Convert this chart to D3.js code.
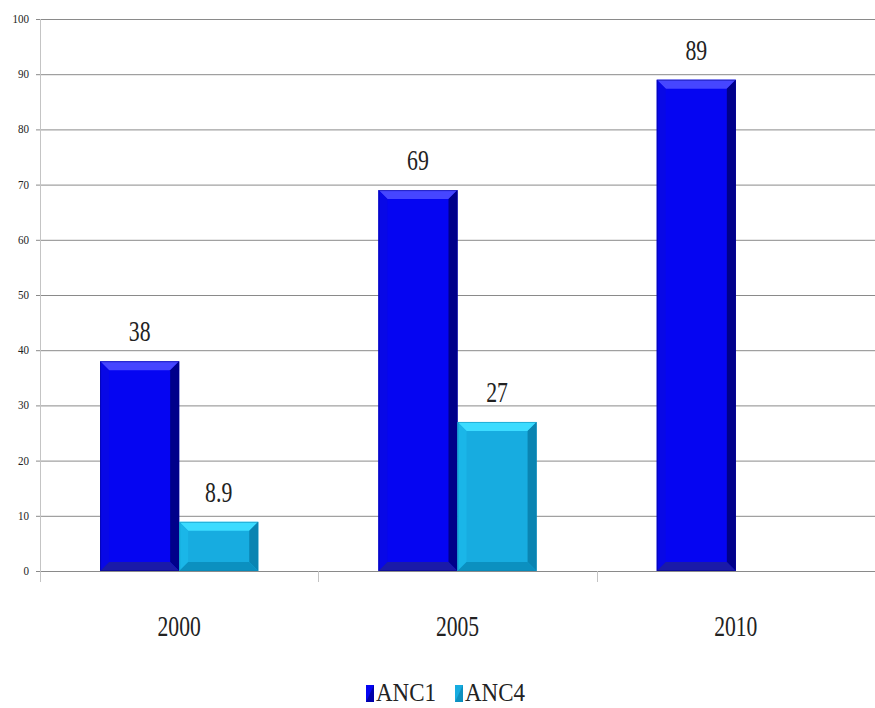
<!DOCTYPE html>
<html>
<head>
<meta charset="utf-8">
<script src="https://cdn.jsdelivr.net/npm/d3@7"></script>
<style>
  body { margin: 0; background: #fff; overflow: hidden; }
</style>
</head>
<body>
<div id="chart"></div>
<script>
const years = ['2000', '2005', '2010'];
const seriesNames = ['ANC1', 'ANC4'];
const anc1 = [38, 69, 89];
const anc4 = [8.9, 27, null];
const valueLabels = [['38', '69', '89'], ['8.9', '27', '']];
const yTicks = [0, 10, 20, 30, 40, 50, 60, 70, 80, 90, 100];

const width = 875;
const height = 708;
const plot = { left: 40, right: 875, top: 19, bottom: 571 };

// base colour and bevel facet colours for each series
const colors = {
  ANC1: { base: '#0505f2', light: '#4646ff', side: '#0808e6', dark: '#00008a', bottom: '#1a1aa8' },
  ANC4: { base: '#17ace0', light: '#3cdcff', side: '#1ab6e8', dark: '#0a84b2', bottom: '#0b90c0' }
};

const svg = d3.select('#chart').append('svg')
  .attr('width', width)
  .attr('height', height)
  .style('display', 'block');

const x0 = d3.scaleBand()
  .domain(years)
  .range([plot.left, plot.right])
  .paddingInner(0);

const x1 = d3.scaleBand()
  .domain(seriesNames)
  .range([0, x0.bandwidth()])
  .paddingInner(0)
  .paddingOuter(0.76);

const y = d3.scaleLinear()
  .domain([0, 100])
  .range([plot.bottom, plot.top]);

// condensed serif text: squeeze the natural width with textLength
function label(g, x, yy, txt, size, anchor, sx) {
  const t = g.append('text')
    .attr('x', x)
    .attr('y', yy)
    .attr('text-anchor', anchor)
    .attr('font-family', 'Liberation Serif')
    .attr('font-size', size)
    .attr('fill', '#222')
    .text(txt);
  const w = t.node().getComputedTextLength();
  if (w > 0) {
    t.attr('textLength', w * sx).attr('lengthAdjust', 'spacingAndGlyphs');
  }
  return t;
}

// gridlines
svg.append('g')
  .selectAll('line')
  .data(yTicks)
  .join('line')
  .attr('x1', plot.left - 4)
  .attr('x2', plot.right)
  .attr('y1', d => y(d) + 0.5)
  .attr('y2', d => y(d) + 0.5)
  .attr('stroke', '#8a8a8a')
  .attr('stroke-width', 1);

// y axis line
svg.append('line')
  .attr('x1', plot.left + 0.5).attr('x2', plot.left + 0.5)
  .attr('y1', plot.top).attr('y2', plot.bottom + 11)
  .attr('stroke', '#c4c4c4');

// category separators
svg.append('g')
  .selectAll('line')
  .data(years.slice(1))
  .join('line')
  .attr('x1', d => Math.round(x0(d)) + 0.5)
  .attr('x2', d => Math.round(x0(d)) + 0.5)
  .attr('y1', plot.bottom)
  .attr('y2', plot.bottom + 11)
  .attr('stroke', '#c4c4c4');

// y tick labels
const yLab = svg.append('g');
yTicks.forEach(t => label(yLab, 29, y(t) + 4, String(t), 13, 'end', 0.85));

// bars with bevel facets
const bars = svg.append('g');
const seriesData = [anc1, anc4];
seriesNames.forEach((name, si) => {
  const c = colors[name];
  years.forEach((yr, i) => {
    const v = seriesData[si][i];
    if (v == null) return;
    const bx = x0(yr) + x1(name);
    const bw = x1.bandwidth();
    const by = y(v);
    const bh = y(0) - by;
    const bv = Math.min(9, bh / 2);
    const bvx = 9;
    const g = bars.append('g');
    g.append('rect')
      .attr('x', bx).attr('y', by).attr('width', bw).attr('height', bh)
      .attr('fill', c.base);
    const facet = (pts, fill) => g.append('polygon')
      .attr('points', pts.map(p => p.join(',')).join(' '))
      .attr('fill', fill);
    // top
    facet([[bx, by], [bx + bw, by], [bx + bw - bvx, by + bv], [bx + bvx, by + bv]], c.light);
    // left
    facet([[bx, by], [bx + bvx, by + bv], [bx + bvx, by + bh - bv], [bx, by + bh]], c.side);
    // right
    facet([[bx + bw, by], [bx + bw, by + bh], [bx + bw - bvx, by + bh - bv], [bx + bw - bvx, by + bv]], c.dark);
    // bottom
    facet([[bx, by + bh], [bx + bvx, by + bh - bv], [bx + bw - bvx, by + bh - bv], [bx + bw, by + bh]], c.bottom);
    g.append('rect')
      .attr('x', bx + 0.5).attr('y', by + 0.5).attr('width', bw - 1).attr('height', bh - 1)
      .attr('fill', 'none')
      .attr('stroke', c.dark)
      .attr('stroke-opacity', 0.5);

    label(bars, bx + bw / 2, by - 20, valueLabels[si][i], 29, 'middle', 0.75);
  });
});

// category labels
const xLab = svg.append('g');
years.forEach(yr => label(xLab, x0(yr) + x0.bandwidth() / 2, 636, yr, 30, 'middle', 0.72));

// legend
const legend = svg.append('g');
const legendX = [366, 455];
seriesNames.forEach((name, i) => {
  const c = colors[name];
  const lx = legendX[i];
  legend.append('rect')
    .attr('x', lx).attr('y', 685).attr('width', 8).attr('height', 17)
    .attr('fill', c.base);
  legend.append('polygon')
    .attr('points', `${lx},702 ${lx + 8},685 ${lx + 8},702`)
    .attr('fill', c.dark).attr('opacity', 0.7);
  label(legend, lx + 10, 701, name, 25, 'start', 0.92);
});
</script>
</body>
</html>
